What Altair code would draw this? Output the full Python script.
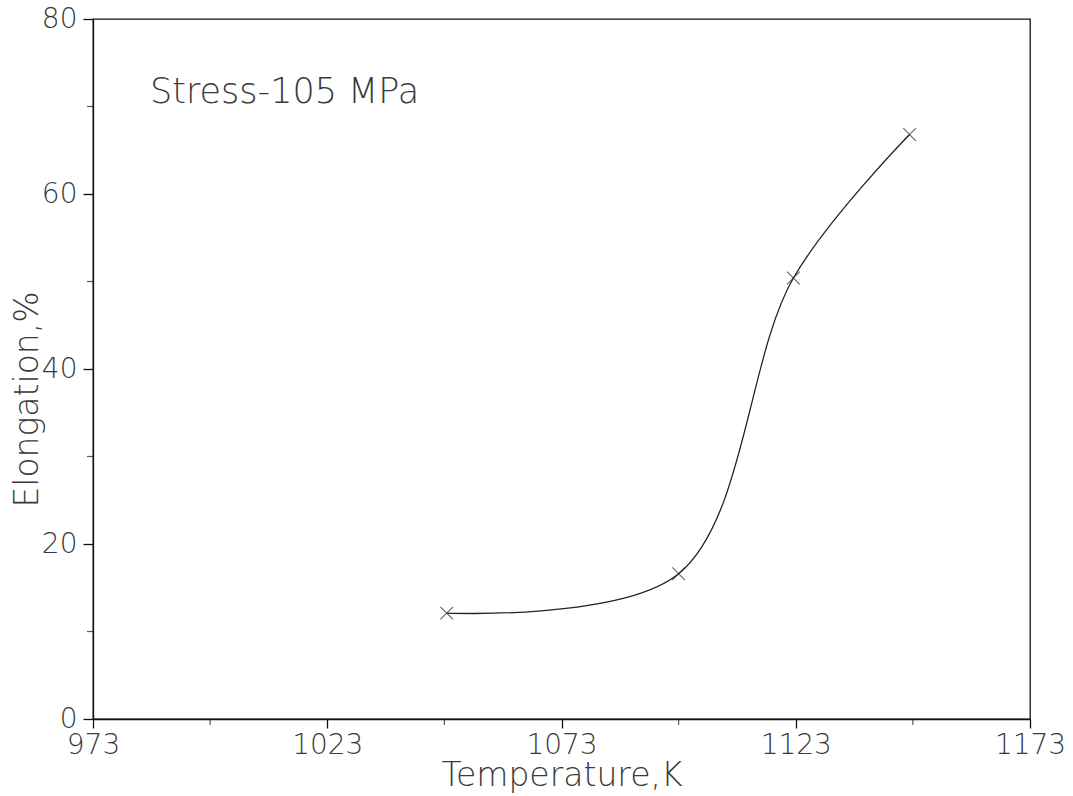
import altair as alt
import pandas as pd

temperature = [1048.5, 1098, 1122.5, 1147.3]
elongation = [12.1, 16.6, 50.4, 66.8]

x_major = [973, 1023, 1073, 1123, 1173]
x_minor = [998, 1048, 1098, 1148]
y_major = [0, 20, 40, 60, 80]
y_minor = [10, 30, 50, 70]

FONT = "DejaVu Sans"
INK = "#3a3a3a"

df = pd.DataFrame({"T": temperature, "E": elongation})
xmin_df = pd.DataFrame({"T": x_minor, "E": [0] * len(x_minor)})
ymin_df = pd.DataFrame({"T": [973] * len(y_minor), "E": y_minor})

xs = alt.Scale(domain=[973, 1173], nice=False, zero=False)
ys = alt.Scale(domain=[0, 80], nice=False)

xaxis = alt.Axis(values=x_major, title="Temperature,K", grid=False, tickSize=9,
                 labelFontSize=28, titleFontSize=33, labelPadding=3, titlePadding=0,
                 labelFont=FONT, titleFont=FONT, labelFontWeight=200, titleFontWeight=200,
                 labelColor=INK, titleColor=INK, domainColor="#111", tickColor="#111",
                 domainWidth=1.3, tickWidth=1.3, labelFlush=False, format="d")
yaxis = alt.Axis(values=y_major, title="Elongation,%", grid=False, tickSize=10,
                 labelFontSize=28, titleFontSize=33, labelPadding=6,
                 labelFont=FONT, titleFont=FONT, labelFontWeight=200, titleFontWeight=200,
                 labelColor=INK, titleColor=INK, domainColor="#111", tickColor="#111",
                 domainWidth=1.3, tickWidth=1.3, titleX=-56, titleY=380, titleAngle=270,
                 titleBaseline="alphabetic", labelFlush=False)

line = alt.Chart(df).mark_line(interpolate="catmull-rom", color="#222", strokeWidth=1.3).encode(
    x=alt.X("T:Q", scale=xs, axis=xaxis),
    y=alt.Y("E:Q", scale=ys, axis=yaxis),
)

pts = alt.Chart(df).mark_point(shape="M-1,-1L1,1M-1,1L1,-1", size=160, color="#222",
                               strokeWidth=1.1, filled=False).encode(
    x=alt.X("T:Q", scale=xs), y=alt.Y("E:Q", scale=ys))

xminor = alt.Chart(xmin_df).mark_tick(orient="vertical", size=6, thickness=1.2,
                                      color="#111", yOffset=3).encode(
    x=alt.X("T:Q", scale=xs), y=alt.Y("E:Q", scale=ys))
yminor = alt.Chart(ymin_df).mark_tick(orient="horizontal", size=6, thickness=1.2,
                                      color="#111", xOffset=-3).encode(
    x=alt.X("T:Q", scale=xs), y=alt.Y("E:Q", scale=ys))

label = alt.Chart(pd.DataFrame({"t": ["Stress-105 MPa"]})).mark_text(
    align="left", baseline="middle", fontSize=35, font=FONT, fontWeight=200, color=INK
).encode(x=alt.value(57), y=alt.value(73), text="t:N")

chart = alt.layer(line, pts, xminor, yminor, label).properties(
    width=937, height=700,
    autosize=alt.AutoSizeParams(type="none"),
    padding={"left": 93, "top": 19, "right": 43, "bottom": 77},
    background="white",
).configure_view(stroke="#111", strokeWidth=1.3)

chart.save("out.html", embed_options={"renderer": "svg", "actions": False})
